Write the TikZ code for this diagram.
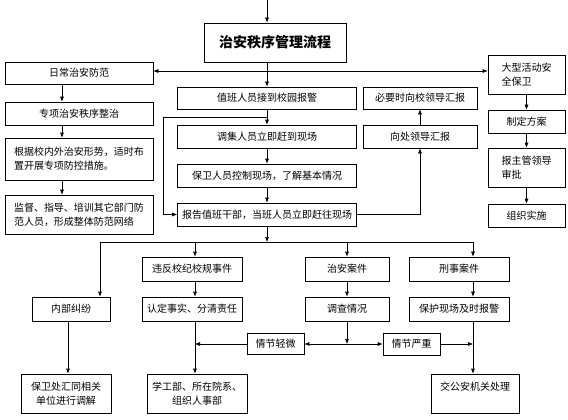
\documentclass[tikz,border=0pt]{standalone}
\usepackage{fontspec}
\newfontfamily\cjk{Noto Sans CJK SC}
\usetikzlibrary{arrows.meta}

\begin{document}
\begin{tikzpicture}[x=1pt,y=-1pt,line width=0.6pt,
  box/.style={draw, minimum height=23pt, inner sep=2pt, align=left,
    font=\cjk\fontsize{10}{14}\selectfont},
  arr/.style={-{Latex[length=5pt,width=4pt]}}]
  \useasboundingbox (0,0) rectangle (568,420);

  % Title
  \node[draw, minimum width=142pt, minimum height=39pt,
    font=\cjk\bfseries\fontsize{14}{16}\selectfont] (title) at (275,42.5) {治安秩序管理流程};

  % Left column
  \node[box, minimum width=148pt, minimum height=22pt] (daily) at (79,73) {日常治安防范};
  \node[box, minimum width=148pt] (special) at (79,113.5) {专项治安秩序整治};
  \node[box, minimum width=148pt, minimum height=42pt] (measures) at (79,159)
    {根据校内外治安形势，适时布\\置开展专项防控措施。};
  \node[box, minimum width=148pt, minimum height=39pt] (supervise) at (79,214.5)
    {监督、指导、培训其它部门防\\范人员，形成整体防范网络};

  % Centre column
  \node[box, minimum width=179pt, minimum height=22pt] (duty) at (267,98) {值班人员接到校园报警};
  \node[box, minimum width=179pt] (gather) at (267,136.5) {调集人员立即赶到现场};
  \node[box, minimum width=179pt] (control) at (267,175.5) {保卫人员控制现场，了解基本情况};
  \node[box, minimum width=179pt] (report) at (267,214.5) {报告值班干部，当班人员立即赶往现场};

  % Leaders
  \node[box, minimum width=114pt, minimum height=22pt] (upper) at (420,98) {必要时向校领导汇报};
  \node[box, minimum width=114pt] (lower) at (420,136.5) {向处领导汇报};

  % Right column
  \node[box, minimum width=77pt, minimum height=39pt] (event) at (526.5,74.5) {大型活动安\\全保卫};
  \node[box, minimum width=77pt] (plan) at (526.5,121.5) {制定方案};
  \node[box, minimum width=77pt, minimum height=39pt] (approve) at (526.5,167.5) {报主管领导\\审批};
  \node[box, minimum width=77pt] (implement) at (526.5,215.5) {组织实施};

  % Case rows
  \node[box, minimum width=100pt, minimum height=24pt] (violate) at (192,269) {违反校纪校规事件};
  \node[box, minimum width=84pt, minimum height=24pt] (public) at (347,269) {治安案件};
  \node[box, minimum width=100pt, minimum height=24pt] (criminal) at (459,269) {刑事案件};
  \node[box, minimum width=78pt, minimum height=24pt] (internal) at (71,309) {内部纠纷};
  \node[box, minimum width=100pt, minimum height=24pt] (confirm) at (192,309) {认定事实、分清责任};
  \node[box, minimum width=84pt, minimum height=24pt] (investigate) at (347,309) {调查情况};
  \node[box, minimum width=100pt, minimum height=24pt] (protect) at (459,309) {保护现场及时报警};
  \node[box, minimum width=57pt, minimum height=21pt] (minor) at (275.5,344) {情节轻微};
  \node[box, minimum width=57pt, minimum height=22pt] (serious) at (411.5,344) {情节严重};
  \node[box, minimum width=90pt, minimum height=39pt, align=center] (mediate) at (66,393.5)
    {保卫处汇同相关\\单位进行调解};
  \node[box, minimum width=100pt, minimum height=39pt, align=center] (student) at (197,393.5)
    {学工部、所在院系、\\组织人事部};
  \node[box, minimum width=88pt, minimum height=39pt, align=center] (police) at (475,393.5)
    {交公安机关处理\\~};

  % Helper points
  \coordinate (top) at (267,0);
  \coordinate (split) at (267,71);
  \coordinate (lx) at (62,0);
  \coordinate (loop) at (163,117);
  \coordinate (bus) at (267,242);
  \coordinate (busL) at (100,242);
  \coordinate (busR) at (473,242);
  \coordinate (vx) at (195,242);
  \coordinate (cx) at (347,242);
  \coordinate (ix) at (68,0);
  \coordinate (mid) at (347,344);

  % Top part
  \draw[arr] (top) -- (top |- title.north);
  \draw[arr] (title.south -| top) -- (duty.north);
  \draw[arr] (split) -- (split -| daily.east);
  \draw[arr] (split) -- (split -| event.west);

  % Left column
  \draw[arr] (daily.south -| lx) -- (special.north -| lx);
  \draw[arr] (special.south -| lx) -- (measures.north -| lx);
  \draw[arr] (measures.south -| lx) -- (supervise.north -| lx);

  % Centre column
  \draw[arr] (duty) -- (gather);
  \draw[arr] (gather) -- (control);
  \draw[arr] (control) -- (report);
  \draw[arr] (duty.south |- loop) -- (loop) |- (report.west);
  \draw[arr] (report.east) -| (lower.south);
  \draw[arr] (lower) -- (upper);

  % Right column
  \draw[arr] (event) -- (plan);
  \draw[arr] (plan) -- (approve);
  \draw[arr] (approve) -- (implement);

  % Bottom part
  \draw[arr] (report.south) -- (bus);
  \draw (busL) -- (busR);
  \draw[arr] (busL) -- (busL |- internal.north);
  \draw[arr] (vx) -- (vx |- violate.north);
  \draw[arr] (cx) -- (public.north);
  \draw[arr] (busR) -- (busR |- criminal.north);
  \draw[arr] (violate.south -| vx) -- (confirm.north -| vx);
  \draw[arr] (public) -- (investigate);
  \draw[arr] (criminal.south -| busR) -- (protect.north -| busR);
  \draw[arr] (internal.south -| ix) -- (mediate.north -| ix);
  \draw[arr] (confirm.south -| vx) -- (student.north -| vx);
  \draw[arr] (protect.south -| busR) -- (police.north -| busR);
  \draw[arr] (investigate.south) -- (mid);
  \draw[arr] (mid) -- (minor.east);
  \draw[arr] (mid) -- (serious.west);
  \draw[arr] (minor.west) -- (minor.west -| vx);
  \draw[arr] (serious.east) -- (serious.east -| busR);

\end{tikzpicture}
\end{document}
